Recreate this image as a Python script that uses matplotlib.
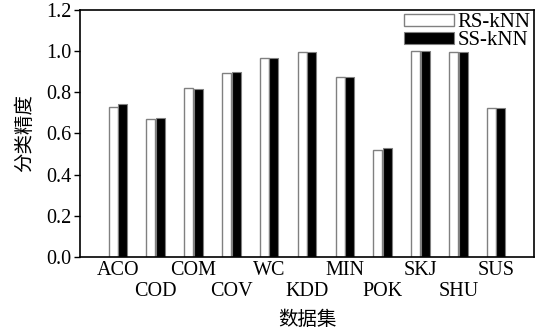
import matplotlib.pyplot as plt
import numpy as np

plt.rcParams['font.family'] = ['Liberation Serif', 'Noto Sans CJK SC']

datasets = ['ACO', 'COD', 'COM', 'COV', 'WC', 'KDD', 'MIN', 'POK', 'SKJ', 'SHU', 'SUS']
rs_knn = [0.729, 0.669, 0.820, 0.894, 0.965, 0.998, 0.873, 0.518, 1.000, 0.998, 0.722]
ss_knn = [0.742, 0.677, 0.818, 0.899, 0.965, 0.998, 0.876, 0.528, 1.000, 0.998, 0.724]


def draw():
    fig = plt.figure(figsize=(5.46, 3.31), dpi=100)
    ax = fig.add_axes([0.1465, 0.2236, 0.8315, 0.7464])

    x = np.arange(len(datasets))
    w = 0.24
    ax.bar(x - 0.125, rs_knn, w, color='white', edgecolor='#808080', linewidth=1.0, label='RS-kNN')
    ax.bar(x + 0.125, ss_knn, w, color='black', edgecolor='#808080', linewidth=0.8, label='SS-kNN')

    ax.set_xlim(-1, 11)
    ax.set_ylim(0, 1.2)
    ax.set_yticks(np.arange(0, 1.21, 0.2))
    ax.set_yticklabels(['%.1f' % v for v in np.arange(0, 1.21, 0.2)], fontsize=14.5)

    # staggered labels: even ones on the first row, odd ones below
    ax.set_xticks(x[::2])
    ax.set_xticklabels(datasets[::2], fontsize=14.5)
    ax.set_xticks(x[1::2], minor=True)
    ax.set_xticklabels(datasets[1::2], minor=True, fontsize=14.5)
    ax.tick_params(axis='x', which='major', length=0, pad=3)
    ax.tick_params(axis='x', which='minor', length=0, pad=18)
    ax.tick_params(axis='y', direction='out', length=4, width=1, pad=2)

    for s in ax.spines.values():
        s.set_linewidth(1.2)

    ax.set_xlabel('数据集', family=['Noto Sans CJK SC'], fontsize=14, labelpad=5.5)
    ax.set_ylabel('分类精度', family=['Noto Sans CJK SC'], fontsize=14, labelpad=8)

    ax.legend(loc='upper right', frameon=False, fontsize=15, handlelength=2.4, handleheight=0.5,
              handletextpad=0.2, labelspacing=-0.05, borderaxespad=0.0, borderpad=0.15)

    fig.savefig('out.png', dpi=100)


if __name__ == '__main__':
    draw()
